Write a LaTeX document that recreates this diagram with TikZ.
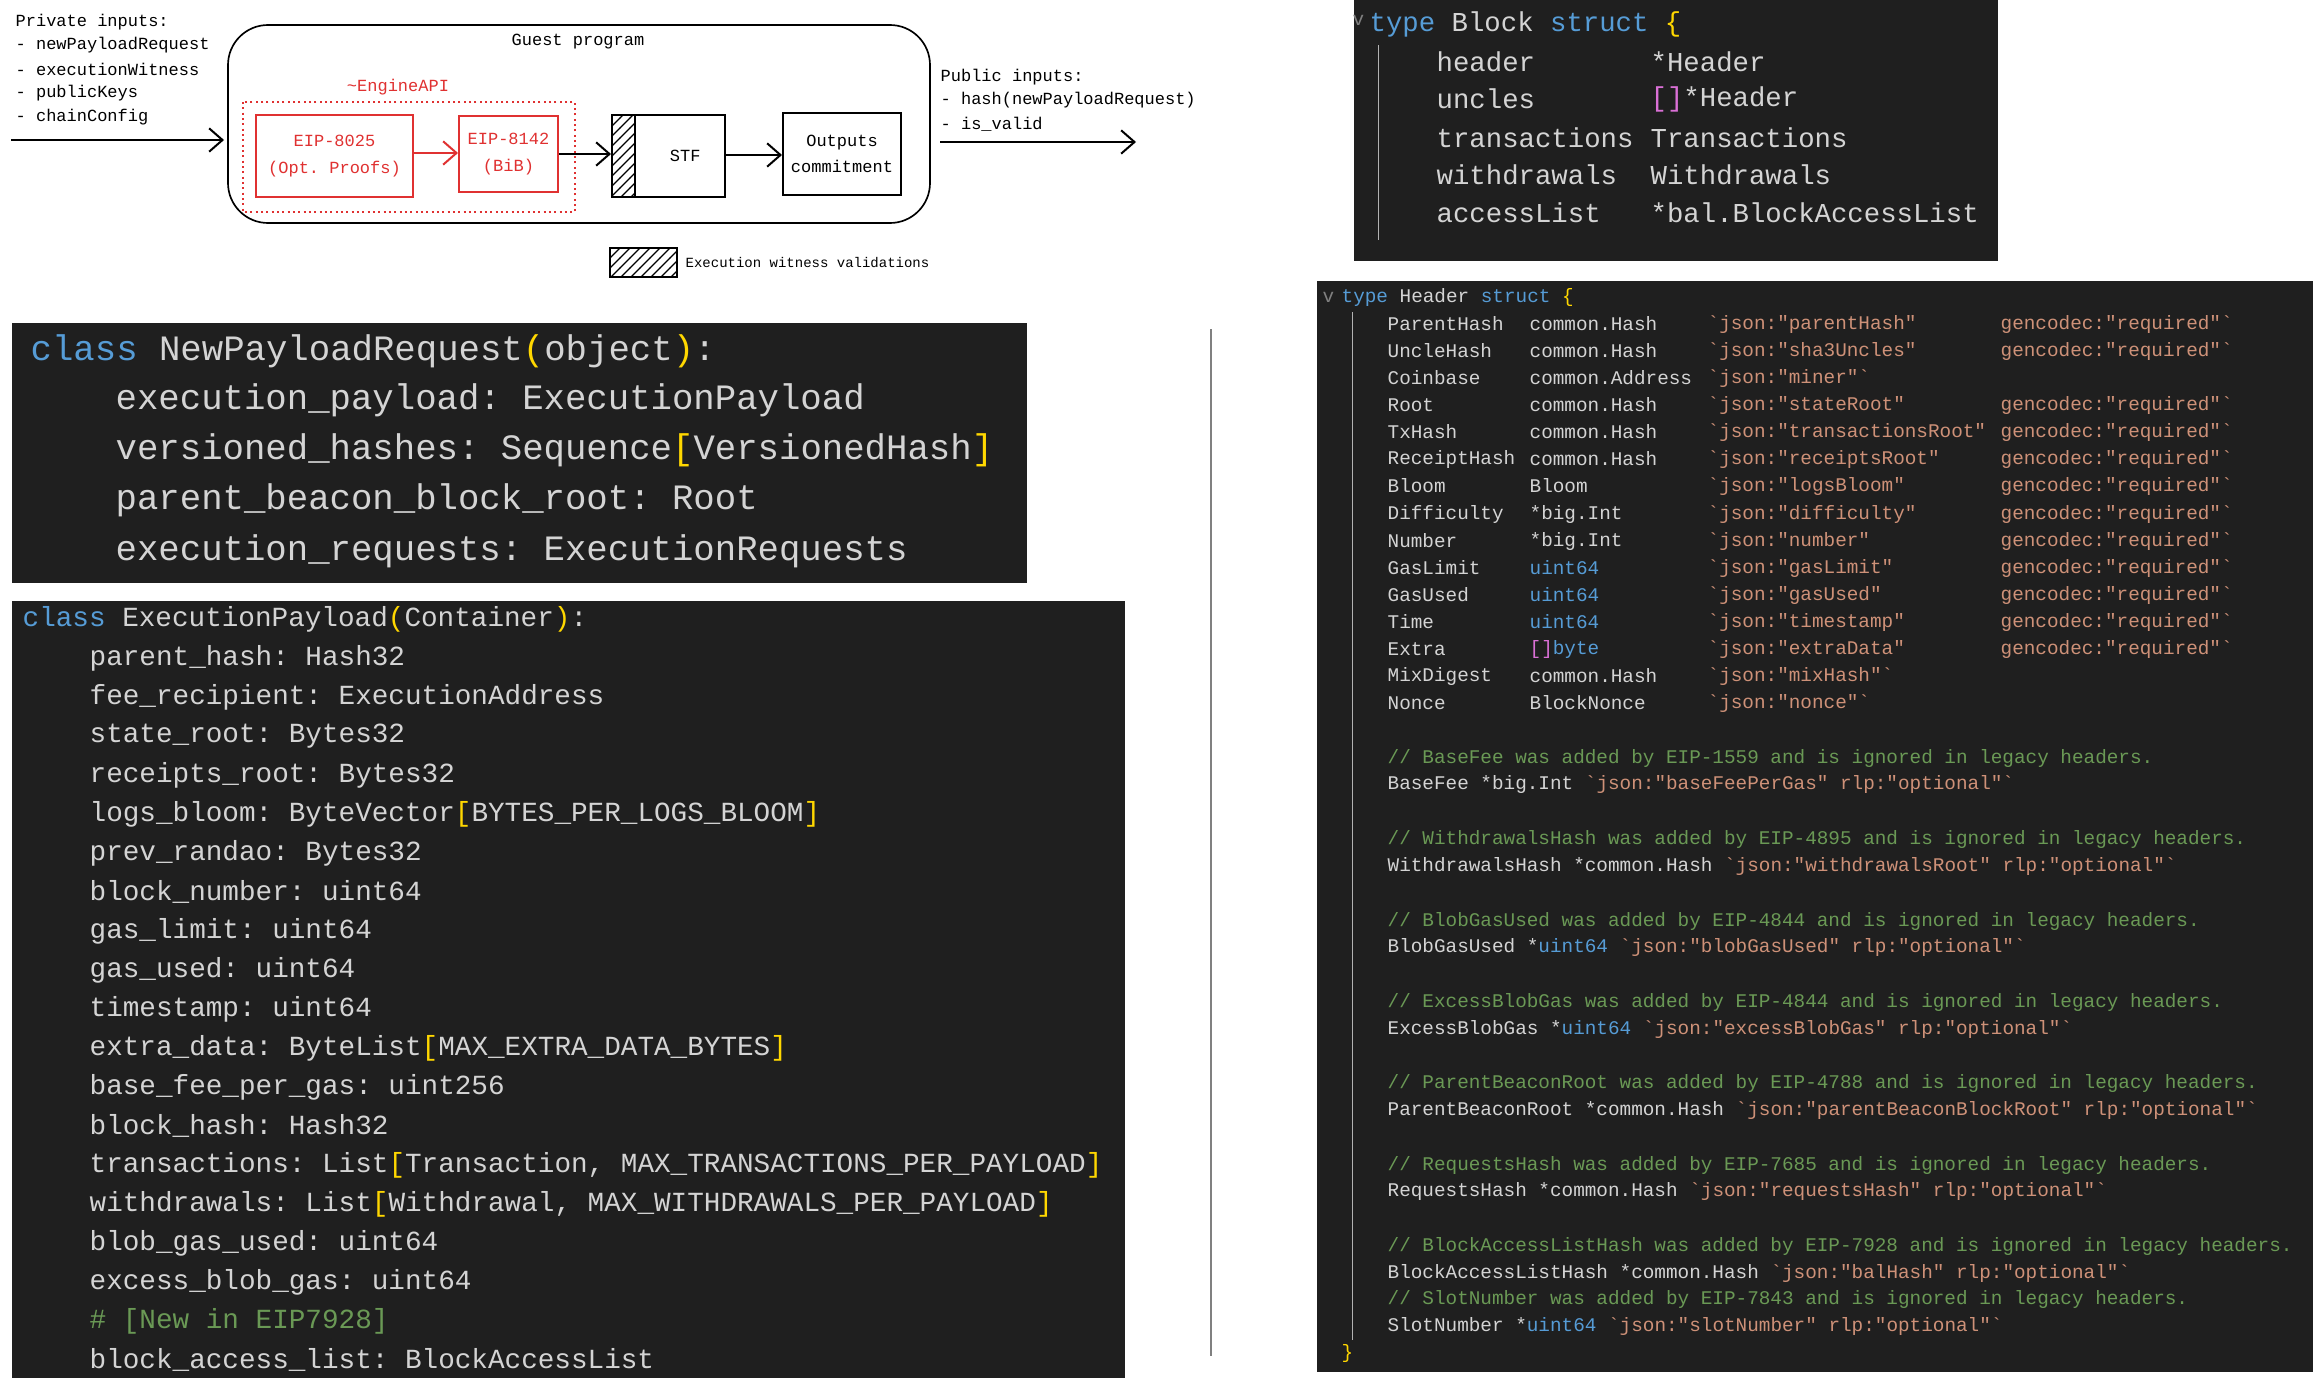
\documentclass[tikz,border=0pt]{standalone}
\usepackage{fontspec}
\usetikzlibrary{arrows.meta,patterns}
\newfontfamily\cmono{Liberation Mono}
\frenchspacing
\definecolor{bgdark}{HTML}{1F1F1F}
\definecolor{fg}{HTML}{D4D4D4}
\definecolor{kwb}{HTML}{569CD6}
\definecolor{ylw}{HTML}{FFD700}
\definecolor{grn}{HTML}{6A9955}
\definecolor{org}{HTML}{CE9178}
\definecolor{mag}{HTML}{DA70D6}
\definecolor{rd}{HTML}{E03131}
\newcommand\kw[1]{\textcolor{kwb}{#1}}
\newcommand\yl[1]{\textcolor{ylw}{#1}}
\newcommand\gr[1]{\textcolor{grn}{#1}}
\newcommand\og[1]{\textcolor{org}{#1}}
\newcommand\mg[1]{\textcolor{mag}{#1}}
\newcommand\tgj[1]{\og{`json:"#1"}}
\newcommand\req{\og{gencodec:"required"`}}
\tikzset{
  code/.style={anchor=west,inner sep=0pt,text=fg,font=\cmono\frenchspacing},
  hc/.style={code,font=\cmono\frenchspacing\fontsize{5.8}{7}\selectfont},
  bc/.style={code,font=\cmono\frenchspacing\fontsize{8.2}{9}\selectfont},
  nc/.style={code,font=\cmono\frenchspacing\fontsize{10.7}{12}\selectfont},
  ec/.style={code,font=\cmono\frenchspacing\fontsize{8.3}{9}\selectfont},
  dg/.style={inner sep=0pt,font=\cmono\frenchspacing\fontsize{5.1}{6}\selectfont},
  dgl/.style={dg,anchor=west},
  arr/.style={line width=0.6pt,-{Straight Barb[length=4pt,width=7pt]}},
  panel/.style={fill=bgdark,draw=none},
}
\newcommand\hrow[5]{\node[hc] at (1387,#1) {#2};\node[hc] at (1529,#1) {#3};\node[hc] at (1707,#1) {#4};\node[hc] at (2000,#1) {#5};}
\begin{document}
\begin{tikzpicture}[x=0.3pt,y=-0.3pt]
\useasboundingbox[fill=white] (0,0) rectangle (2321,1378);
% ---------- top diagram
\node[dgl] (pi0) at (15,22) {Private inputs:};
\node[dgl] (pi1) at (15,45) {- newPayloadRequest};
\node[dgl] (pi2) at (15,69) {- executionWitness};
\node[dgl] (pi3) at (15,93) {- publicKeys};
\node[dgl] (pi4) at (15,117) {- chainConfig};
\draw[rounded corners=12pt,line width=0.5pt] (228,25) rectangle (930,223);
\node[dg] (gp) at (578,42) {Guest program};
\coordinate (inA) at (11,140);
\coordinate (inB) at (224,140);
\draw[arr] (inA) -- (inB);
\node[dg,text=rd] (eapi) at (398,87) {\textasciitilde EngineAPI};
\draw[rd,densely dotted,line width=0.6pt] (243,102) rectangle (575,212);
\node[draw=rd,text=rd,line width=0.6pt,minimum width=157*0.3pt,minimum height=82*0.3pt,inner sep=0pt,align=center,dg] (e1) at (334.5,156) {EIP-8025\\[2pt](Opt. Proofs)};
\node[draw=rd,text=rd,line width=0.6pt,minimum width=99*0.3pt,minimum height=76*0.3pt,inner sep=0pt,align=center,dg] (e2) at (508.5,154) {EIP-8142\\[2pt](BiB)};
\draw[arr,rd] (e1.east|-0,153) -- (e2.west|-0,153);
\node[draw,line width=0.6pt,minimum width=113*0.3pt,minimum height=82*0.3pt,inner sep=0pt,dg] (stf) at (668.5,156) {\hspace{10pt}STF};
\fill[pattern=north east lines] (612,115) rectangle (635,197);
\draw[line width=0.6pt] (635,115) -- (635,197);
\node[draw,line width=0.6pt,minimum width=118*0.3pt,minimum height=82*0.3pt,inner sep=0pt,align=center,dg] (out) at (842,154) {Outputs\\[2pt]commitment};
\draw[arr] (e2.east|-0,154) -- (stf.west|-0,154);
\draw[arr] (stf.east|-0,155) -- (out.west|-0,155);
\node[dgl] (pu0) at (940,77) {Public inputs:};
\node[dgl] (pu1) at (940,100) {- hash(newPayloadRequest)};
\node[dgl] (pu2) at (940,124) {- is\_valid};
\coordinate (oA) at (940,142);
\coordinate (oB) at (1136,142);
\draw[arr] (oA) -- (oB);
\node[draw,pattern=north east lines,minimum width=67*0.3pt,minimum height=29*0.3pt,inner sep=0pt] (leg) at (643.5,262.5) {};
\node[dgl,font=\cmono\fontsize{4.2}{5}\selectfont] (legt) at (685,263) {Execution witness validations};
% ---------- Block struct
\fill[panel] (1354,0) rectangle (1998,261);
\draw[gray!60,line width=0.3pt] (1378,45) -- (1378,240);
\node[hc,text=gray] (bchev) at (1352,20) {v};
\node[bc] (b0) at (1369,24) {\kw{type} Block \kw{struct} \yl{\{}};
\node[bc] (b1) at (1436,62) {header};        \node[bc] (b1t) at (1650,62) {*Header};
\node[bc] (b2) at (1436,99) {uncles};        \node[bc] (b2t) at (1650,99) {\mg{[]}*Header};
\node[bc] (b3) at (1436,138) {transactions}; \node[bc] (b3t) at (1650,138) {Transactions};
\node[bc] (b4) at (1436,175) {withdrawals};  \node[bc] (b4t) at (1650,175) {Withdrawals};
\node[bc] (b5) at (1436,213) {accessList};   \node[bc] (b5t) at (1650,213) {*bal.BlockAccessList};
% ---------- Header struct
\fill[panel] (1317,281) rectangle (2313,1372);
\draw[gray!60,line width=0.3pt] (1352,312) -- (1352,1340);
\node[hc,text=gray] (hchev) at (1322,297) {v};
\node[hc] (h0) at (1341,297) {\kw{type} Header \kw{struct} \yl{\{}};
\hrow{324}{ParentHash}{common.Hash}{\tgj{parentHash}}{\req}
\hrow{351}{UncleHash}{common.Hash}{\tgj{sha3Uncles}}{\req}
\node[hc] at (1387,378) {Coinbase}; \node[hc] at (1529,378) {common.Address}; \node[hc] at (1707,378) {\og{`json:"miner"`}};
\hrow{405}{Root}{common.Hash}{\tgj{stateRoot}}{\req}
\hrow{432}{TxHash}{common.Hash}{\tgj{transactionsRoot}}{\req}
\hrow{459}{ReceiptHash}{common.Hash}{\tgj{receiptsRoot}}{\req}
\hrow{486}{Bloom}{Bloom}{\tgj{logsBloom}}{\req}
\hrow{514}{Difficulty}{*big.Int}{\tgj{difficulty}}{\req}
\hrow{541}{Number}{*big.Int}{\tgj{number}}{\req}
\hrow{568}{GasLimit}{\kw{uint64}}{\tgj{gasLimit}}{\req}
\hrow{595}{GasUsed}{\kw{uint64}}{\tgj{gasUsed}}{\req}
\hrow{622}{Time}{\kw{uint64}}{\tgj{timestamp}}{\req}
\hrow{649}{Extra}{\mg{[]}\kw{byte}}{\tgj{extraData}}{\req}
\hrow{676}{MixDigest}{common.Hash}{\og{`json:"mixHash"`}}{}
\hrow{703}{Nonce}{BlockNonce}{\og{`json:"nonce"`}}{}
\node[hc] at (1387,758) {\gr{// BaseFee was added by EIP-1559 and is ignored in legacy headers.}};
\node[hc] at (1387,784) {BaseFee *big.Int \og{`json:"baseFeePerGas" rlp:"optional"`}};
\node[hc] at (1387,839) {\gr{// WithdrawalsHash was added by EIP-4895 and is ignored in legacy headers.}};
\node[hc] at (1387,866) {WithdrawalsHash *common.Hash \og{`json:"withdrawalsRoot" rlp:"optional"`}};
\node[hc] at (1387,921) {\gr{// BlobGasUsed was added by EIP-4844 and is ignored in legacy headers.}};
\node[hc] at (1387,947) {BlobGasUsed *\kw{uint64} \og{`json:"blobGasUsed" rlp:"optional"`}};
\node[hc] at (1387,1002) {\gr{// ExcessBlobGas was added by EIP-4844 and is ignored in legacy headers.}};
\node[hc] at (1387,1029) {ExcessBlobGas *\kw{uint64} \og{`json:"excessBlobGas" rlp:"optional"`}};
\node[hc] at (1387,1083) {\gr{// ParentBeaconRoot was added by EIP-4788 and is ignored in legacy headers.}};
\node[hc] at (1387,1110) {ParentBeaconRoot *common.Hash \og{`json:"parentBeaconBlockRoot" rlp:"optional"`}};
\node[hc] at (1387,1165) {\gr{// RequestsHash was added by EIP-7685 and is ignored in legacy headers.}};
\node[hc] at (1387,1191) {RequestsHash *common.Hash \og{`json:"requestsHash" rlp:"optional"`}};
\node[hc] at (1387,1246) {\gr{// BlockAccessListHash was added by EIP-7928 and is ignored in legacy headers.}};
\node[hc] at (1387,1273) {BlockAccessListHash *common.Hash \og{`json:"balHash" rlp:"optional"`}};
\node[hc] at (1387,1299) {\gr{// SlotNumber was added by EIP-7843 and is ignored in legacy headers.}};
\node[hc] at (1387,1326) {SlotNumber *\kw{uint64} \og{`json:"slotNumber" rlp:"optional"`}};
\node[hc] (hend) at (1341,1353) {\yl{\}}};
% ---------- divider
\draw[gray,line width=0.5pt] (1211,329) -- (1211,1356);
% ---------- NewPayloadRequest
\fill[panel] (12,323) rectangle (1027,583);
\node[nc] (n0) at (30,351) {\kw{class} NewPayloadRequest\yl{(}object\yl{)}:};
\node[nc] (n1) at (115,400) {execution\_payload: ExecutionPayload};
\node[nc] (n2) at (115,450) {versioned\_hashes: Sequence\yl{[}VersionedHash\yl{]}};
\node[nc] (n3) at (115,500) {parent\_beacon\_block\_root: Root};
\node[nc] (n4) at (115,551) {execution\_requests: ExecutionRequests};
% ---------- ExecutionPayload
\fill[panel] (12,601) rectangle (1125,1378);
\node[ec] (x0) at (22,619) {\kw{class} ExecutionPayload\yl{(}Container\yl{)}:};
\node[ec] at (89,658) {parent\_hash: Hash32};
\node[ec] at (89,697) {fee\_recipient: ExecutionAddress};
\node[ec] at (89,736) {state\_root: Bytes32};
\node[ec] at (89,775) {receipts\_root: Bytes32};
\node[ec] at (89,814) {logs\_bloom: ByteVector\yl{[}BYTES\_PER\_LOGS\_BLOOM\yl{]}};
\node[ec] at (89,853) {prev\_randao: Bytes32};
\node[ec] at (89,892) {block\_number: uint64};
\node[ec] at (89,931) {gas\_limit: uint64};
\node[ec] at (89,970) {gas\_used: uint64};
\node[ec] at (89,1009) {timestamp: uint64};
\node[ec] at (89,1048) {extra\_data: ByteList\yl{[}MAX\_EXTRA\_DATA\_BYTES\yl{]}};
\node[ec] at (89,1087) {base\_fee\_per\_gas: uint256};
\node[ec] at (89,1126) {block\_hash: Hash32};
\node[ec] at (89,1165) {transactions: List\yl{[}Transaction, MAX\_TRANSACTIONS\_PER\_PAYLOAD\yl{]}};
\node[ec] at (89,1204) {withdrawals: List\yl{[}Withdrawal, MAX\_WITHDRAWALS\_PER\_PAYLOAD\yl{]}};
\node[ec] at (89,1243) {blob\_gas\_used: uint64};
\node[ec] at (89,1282) {excess\_blob\_gas: uint64};
\node[ec] at (89,1321) {\gr{\# [New in EIP7928]}};
\node[ec] at (89,1360) {block\_access\_list: BlockAccessList};
\end{tikzpicture}
\end{document}
